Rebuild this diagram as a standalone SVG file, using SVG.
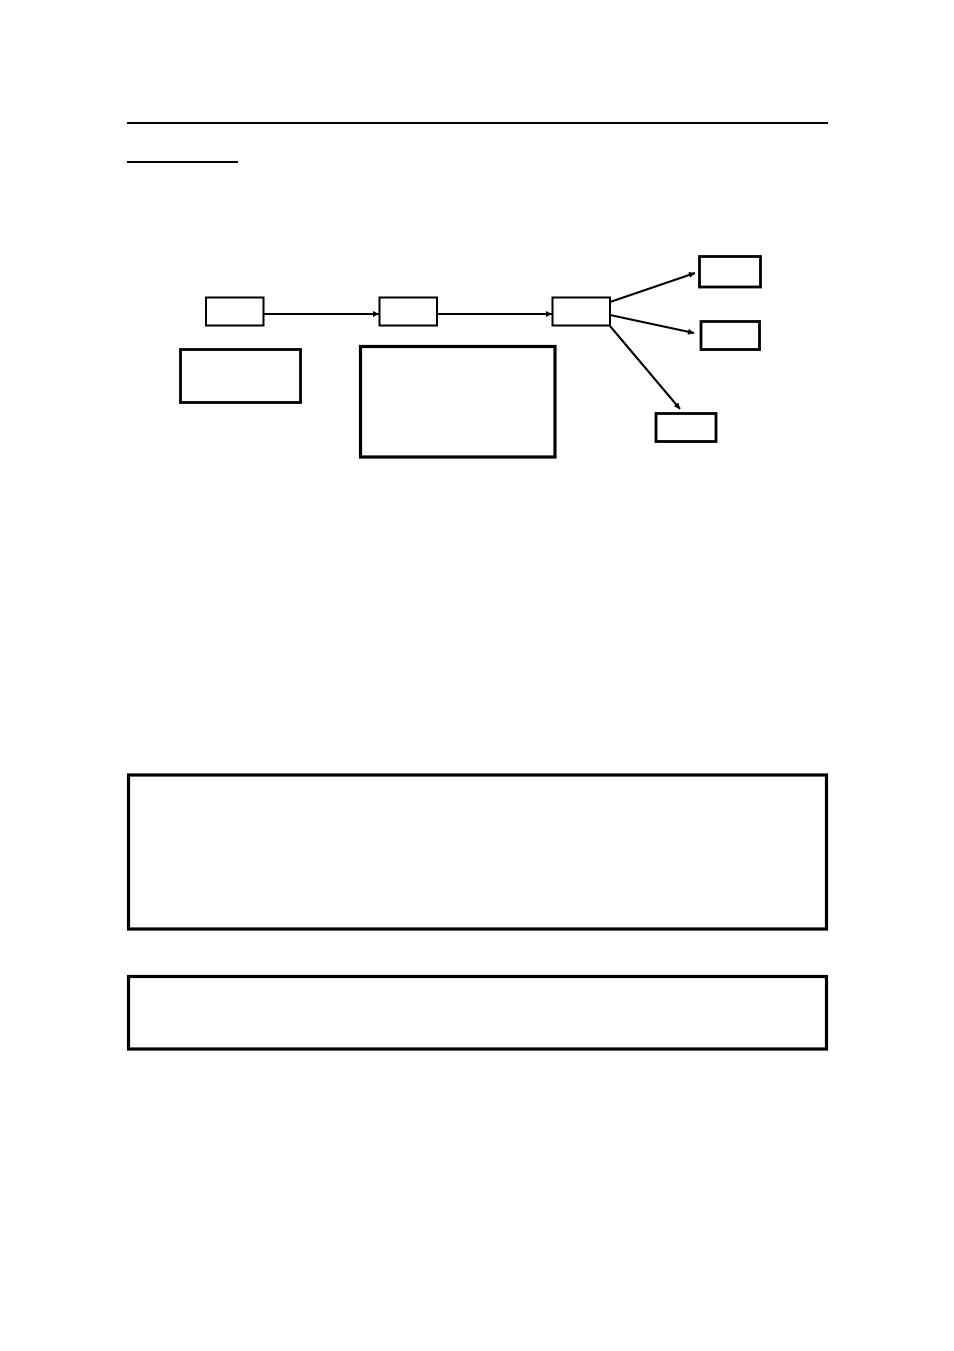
<svg xmlns="http://www.w3.org/2000/svg" width="954" height="1351" viewBox="0 0 954 1351">
<style>
.n{fill:#fff;stroke:#000}
.thin{stroke-width:2}
.med{stroke-width:2.8}
.thick{stroke-width:3.2}
.c{stroke:#000;stroke-width:2;fill:none}
</style>
<defs>
<marker id="ah" viewBox="0 0 10 10" refX="10" refY="5" markerWidth="7" markerHeight="6" markerUnits="userSpaceOnUse" orient="auto">
<path d="M0,0 L10,5 L0,10 z" fill="#000"/>
</marker>
</defs>
<rect width="954" height="1351" fill="#fff"/>
<g id="rules">
<line x1="127" y1="123" x2="828" y2="123" stroke="#000" stroke-width="2"/>
<line x1="127" y1="162" x2="238" y2="162" stroke="#000" stroke-width="2"/>
</g>
<g id="connectors">
<line class="c" x1="264" y1="314" x2="379" y2="314" marker-end="url(#ah)"/>
<line class="c" x1="437" y1="314" x2="552" y2="314" marker-end="url(#ah)"/>
<line class="c" x1="610" y1="302" x2="695" y2="273" marker-end="url(#ah)"/>
<line class="c" x1="610" y1="315" x2="694" y2="333" marker-end="url(#ah)"/>
<line class="c" x1="610" y1="326" x2="680" y2="409" marker-end="url(#ah)"/>
</g>
<g id="nodeA"><rect class="n thin" x="206" y="297.5" width="57.5" height="28"/></g>
<g id="nodeB"><rect class="n thin" x="379.5" y="297.5" width="57.5" height="28"/></g>
<g id="nodeC"><rect class="n thin" x="552.5" y="297.5" width="57.5" height="28"/></g>
<g id="nodeD"><rect class="n med" x="180.5" y="349.5" width="120" height="53"/></g>
<g id="nodeE"><rect class="n thick" x="360.5" y="346.5" width="194.5" height="110.5"/></g>
<g id="nodeF"><rect class="n med" x="699.5" y="256.5" width="61" height="30.5"/></g>
<g id="nodeG"><rect class="n med" x="701" y="321.5" width="58.5" height="28"/></g>
<g id="nodeH"><rect class="n med" x="656" y="413.5" width="60" height="28"/></g>
<g id="nodeI"><rect class="n thick" x="128.5" y="775" width="698" height="154"/></g>
<g id="nodeJ"><rect class="n thick" x="128.5" y="976.5" width="698" height="72.5"/></g>
</svg>
